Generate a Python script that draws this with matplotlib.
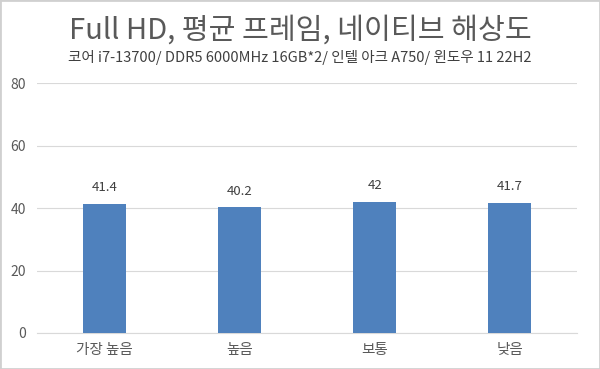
import matplotlib
matplotlib.use("Agg")
import matplotlib.pyplot as plt
import matplotlib.patches as mpatches

plt.rcParams["font.family"] = ["Noto Sans CJK KR", "DejaVu Sans"]

categories = ["가장 높음", "높음", "보통", "낮음"]
values = [41.4, 40.2, 42, 41.7]
labels = ["41.4", "40.2", "42", "41.7"]
yticks = [0, 20, 40, 60, 80]

TITLE = "Full HD, 평균 프레임, 네이티브 해상도"
SUBTITLE = "코어 i7-13700/ DDR5 6000MHz 16GB*2/ 인텔 아크 A750/ 윈도우 11 22H2"

fig = plt.figure(figsize=(6, 3.69), dpi=100)
ax = fig.add_axes([0.062, 0.0976, 0.90, 0.677])

x = range(len(categories))
ax.bar(x, values, width=0.32, color="#4F81BD", zorder=3)
for xi, v, t in zip(x, values, labels):
    ax.text(xi, v + 3, t, ha="center", va="bottom", fontsize=9.5, color="#404040")

ax.set_xlim(-0.5, len(categories) - 0.5)
ax.set_ylim(0, 80)
ax.set_yticks(yticks)
ax.set_xticks(list(x))
ax.set_xticklabels(categories)
ax.grid(axis="y", color="#d9d9d9", linewidth=0.8, zorder=0)
for s in ["top", "right", "left"]:
    ax.spines[s].set_visible(False)
ax.spines["bottom"].set_color("#d9d9d9")
ax.tick_params(axis="x", length=0, labelsize=10.5, colors="#595959", pad=7)
ax.tick_params(axis="y", length=0, labelsize=10, colors="#595959", pad=8)

fig.text(0.5, 0.917, TITLE, ha="center", va="center", fontsize=21,
         color="#595959", fontweight="light")
fig.text(0.5, 0.845, SUBTITLE, ha="center", va="center", fontsize=10.5,
         color="#404040")

border = mpatches.Rectangle((0, 0), 1, 1, transform=fig.transFigure, fill=False,
                            edgecolor="#d0d0d0", linewidth=2)
fig.patches.append(border)

fig.savefig("out.png", dpi=100)
